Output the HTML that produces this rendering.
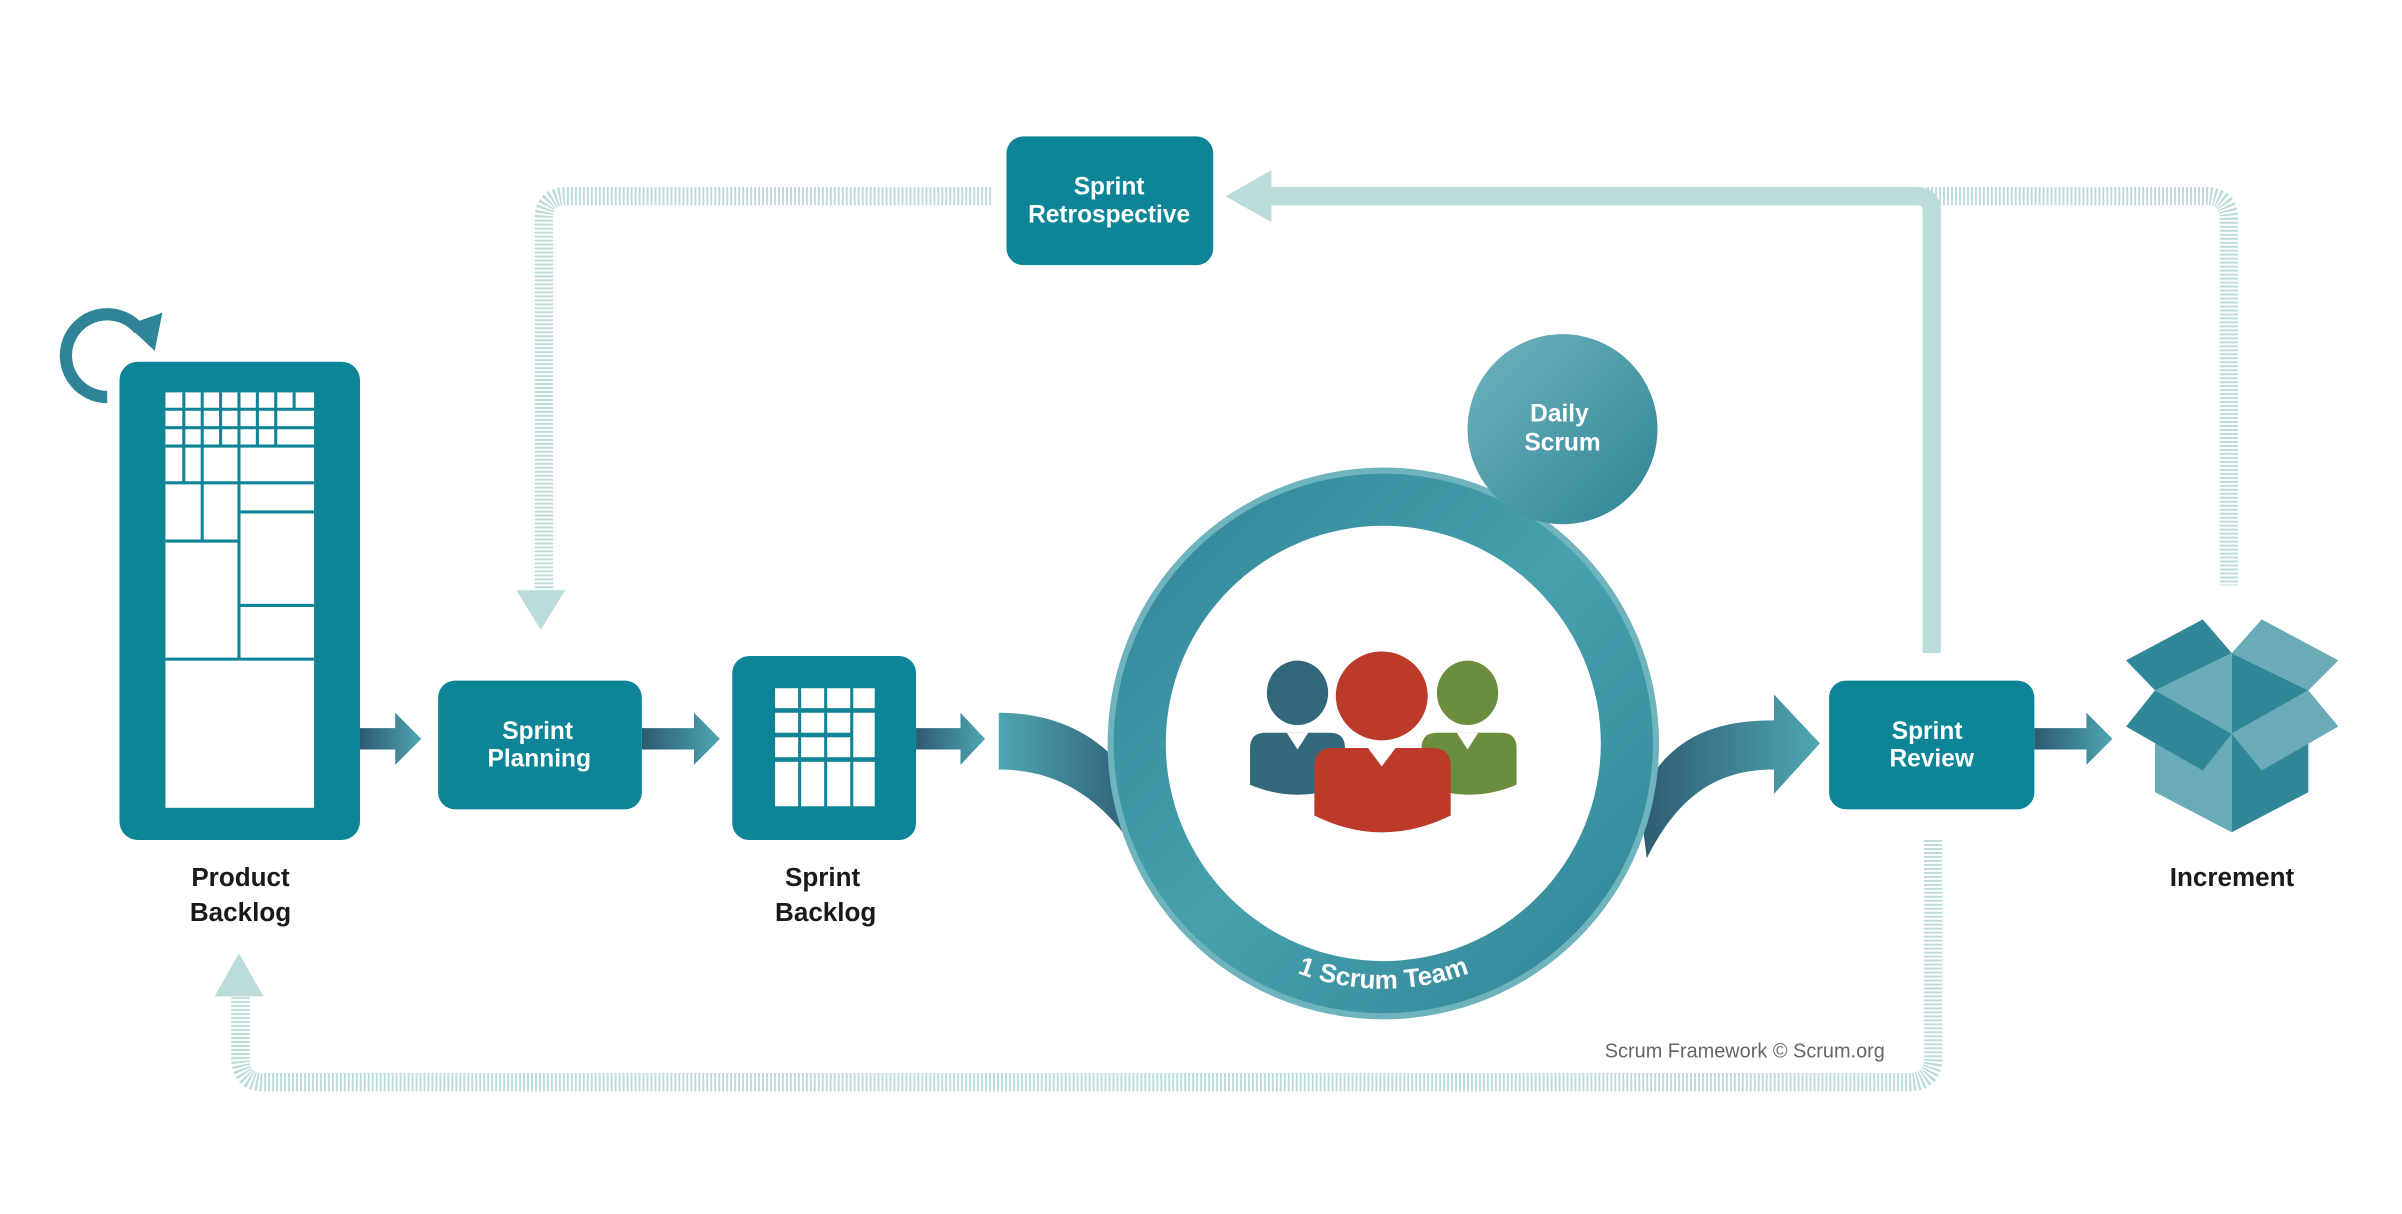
<!DOCTYPE html>
<html><head><meta charset="utf-8"><style>
html,body{margin:0;padding:0;background:#fff;}
svg{display:block;}
text{font-family:"Liberation Sans",sans-serif;font-weight:bold;}
</style></head><body>
<svg width="2402" height="1214" viewBox="0 0 1568 792" preserveAspectRatio="none" xmlns="http://www.w3.org/2000/svg">
<defs>
<linearGradient id="ag" x1="0" x2="1" y1="0" y2="0"><stop offset="0" stop-color="#2d5a72"/><stop offset="1" stop-color="#4fa6b2"/></linearGradient>
<linearGradient id="ring" x1="0" y1="0" x2="1" y2="1"><stop offset="0" stop-color="#2f8497"/><stop offset="0.5" stop-color="#46a0ad"/><stop offset="1" stop-color="#2f8497"/></linearGradient>
<linearGradient id="ds" x1="0" y1="0" x2="1" y2="1"><stop offset="0" stop-color="#6fb3bd"/><stop offset="1" stop-color="#2f8596"/></linearGradient>
<linearGradient id="cl" x1="0" x2="1"><stop offset="0" stop-color="#4fa6b2"/><stop offset="1" stop-color="#2d5a72"/></linearGradient>
<path id="arcp" d="M 743 485 A 160 160 0 0 0 1063 485"/>
</defs>

<!-- dotted loops -->
<g fill="none" stroke="#bcdcdc" stroke-width="12" stroke-dasharray="1.3,1.3">
<path d="M647 128 H370 Q355 128 355 143 V386"/>
<path d="M1258 128 H1440 Q1455 128 1455 143 V382"/>
<path d="M1262 548 V690 Q1262 706 1246 706 H172 Q157 706 157 690 V650"/>
</g>
<polygon points="337,385 369,385 353,411" fill="#bcdcdc"/>
<polygon points="140,650 172,650 156,622" fill="#bcdcdc"/>

<!-- solid feedback -->
<path d="M1261 426 V138 Q1261 128 1251 128 H828" fill="none" stroke="#bcdcdc" stroke-width="12"/>
<polygon points="830,111 830,145 800,128" fill="#bcdcdc"/>

<!-- retro box -->
<rect x="657" y="89" width="135" height="84" rx="11" fill="#0e8597"/>
<text x="724" y="127" font-size="16" fill="#fff" text-anchor="middle">Sprint</text>
<text x="724" y="145" font-size="16" fill="#fff" text-anchor="middle">Retrospective</text>

<!-- product backlog -->
<path d="M70 259 A27 27 0 1 1 91 215" fill="none" stroke="#2f8497" stroke-width="8"/>
<polygon points="83,212 106,204 101,229" fill="#2f8497"/>
<rect x="78" y="236" width="157" height="312" rx="12" fill="#0e8597"/>
<rect x="108" y="256" width="97" height="271" fill="#fff"/>
<g stroke="#0e8597" stroke-width="2" fill="none">
<path d="M108 267 H205 M108 279 H205 M108 291 H205 M108 315 H205 M156 334 H205 M108 353 H156 M156 395 H205 M108 430 H205"/>
<path d="M120 256 V315 M132 256 V315 M144 256 V291 M156 256 V430 M168 256 V291 M180 256 V291 M192 256 V267 M132 315 V353"/>
</g>

<!-- arrows -->
<g fill="url(#ag)">
<polygon points="235,475 258,475 258,465 275,482 258,499 258,489 235,489"/>
<polygon points="419,475 453,475 453,465 470,482 453,499 453,489 419,489"/>
<polygon points="598,475 627,475 627,465 643,482 627,499 627,489 598,489"/>
<polygon points="1328,475 1362,475 1362,465 1379,482 1362,499 1362,489 1328,489"/>
</g>

<!-- sprint planning -->
<rect x="286" y="444" width="133" height="84" rx="11" fill="#0e8597"/>
<text x="351" y="482" font-size="16" fill="#fff" text-anchor="middle">Sprint</text>
<text x="352" y="500" font-size="16" fill="#fff" text-anchor="middle">Planning</text>

<!-- sprint backlog -->
<rect x="478" y="428" width="120" height="120" rx="11" fill="#0e8597"/>
<g fill="#fff">
<rect x="506" y="449" width="15" height="13"/><rect x="523" y="449" width="15" height="13"/><rect x="540" y="449" width="15" height="13"/><rect x="557" y="449" width="14" height="13"/>
<rect x="506" y="465" width="15" height="13"/><rect x="523" y="465" width="15" height="13"/><rect x="540" y="465" width="15" height="13"/><rect x="557" y="465" width="14" height="29"/>
<rect x="506" y="481" width="15" height="13"/><rect x="523" y="481" width="15" height="13"/><rect x="540" y="481" width="15" height="13"/>
<rect x="506" y="497" width="15" height="29"/><rect x="523" y="497" width="15" height="29"/><rect x="540" y="497" width="15" height="29"/><rect x="557" y="497" width="14" height="29"/>
</g>

<!-- curved bands -->
<path d="M652 465 C690 465 720 480 740 510 L745 560 C720 520 690 502 652 502 Z" fill="url(#cl)"/>
<path d="M1070 520 C1090 480 1120 470 1158 470 L1158 453 L1188 485 L1158 518 L1158 502 C1120 502 1095 520 1075 560 Z" fill="url(#ag)"/>

<!-- ring -->
<circle cx="903" cy="485" r="180" fill="#6fb3bd"/>
<circle cx="903" cy="485" r="176" fill="url(#ring)"/>
<circle cx="903" cy="485" r="142" fill="#fff"/>
<text font-size="17" fill="#fff"><textPath href="#arcp" startOffset="50%" text-anchor="middle">1 Scrum Team</textPath></text>

<!-- daily scrum -->
<circle cx="1020" cy="280" r="62" fill="url(#ds)"/>
<text x="1018" y="275" font-size="16" fill="#fff" text-anchor="middle">Daily</text>
<text x="1020" y="294" font-size="16" fill="#fff" text-anchor="middle">Scrum</text>

<!-- people -->
<ellipse cx="847" cy="452" rx="20" ry="21" fill="#32687c"/>
<path d="M816 488 Q816 478 826 478 H868 Q878 478 878 488 V512 Q847 525 816 512 Z" fill="#32687c"/>
<ellipse cx="958" cy="452" rx="20" ry="21" fill="#6b8e3e"/>
<path d="M928 488 Q928 478 938 478 H980 Q990 478 990 488 V512 Q959 525 928 512 Z" fill="#6b8e3e"/>
<ellipse cx="902" cy="454" rx="30" ry="29" fill="#bb3a2a"/>
<path d="M858 500 Q858 488 870 488 H935 Q947 488 947 500 V532 Q902 554 858 532 Z" fill="#bb3a2a"/>
<polygon points="840,478 854,478 847,489" fill="#fff"/>
<polygon points="951,478 965,478 958,489" fill="#fff"/>
<polygon points="893,488 911,488 902,500" fill="#fff"/>

<!-- sprint review -->
<rect x="1194" y="444" width="134" height="84" rx="11" fill="#0e8597"/>
<text x="1258" y="482" font-size="16" fill="#fff" text-anchor="middle">Sprint</text>
<text x="1261" y="500" font-size="16" fill="#fff" text-anchor="middle">Review</text>

<!-- increment box (original px coords) -->
<g transform="scale(0.6528)">
<polygon points="2155,743.3 2231.7,733.3 2231.7,831.7 2155,791.7" fill="#69abb6"/>
<polygon points="2231.7,733.3 2308.3,743.3 2308.3,791.7 2231.7,831.7" fill="#2f8798"/>
<polygon points="2231.7,652.7 2231.7,733.3 2155,690" fill="#69abb6"/>
<polygon points="2231.7,652.7 2308.3,690 2231.7,733.3" fill="#2f8798"/>
<polygon points="2126,660 2202.7,619 2231.7,652.7 2155,690" fill="#2f8798"/>
<polygon points="2231.7,652.7 2261.7,619 2338.3,660 2308.3,690" fill="#69abb6"/>
<polygon points="2155,690 2231.7,733.3 2202.7,770 2126,726" fill="#2f8798"/>
<polygon points="2308.3,690 2338.3,726 2261.7,770 2231.7,733.3" fill="#69abb6"/>
</g>

<!-- labels -->
<g fill="#1a1a1a" font-size="17" text-anchor="middle">
<text x="157" y="578">Product</text><text x="157" y="601">Backlog</text>
<text x="537" y="578">Sprint</text><text x="539" y="601">Backlog</text>
<text x="1457" y="578">Increment</text>
</g>
<text x="1139" y="690" font-size="13" fill="#666" text-anchor="middle" style="font-weight:normal">Scrum Framework © Scrum.org</text>
</svg>
</body></html>
